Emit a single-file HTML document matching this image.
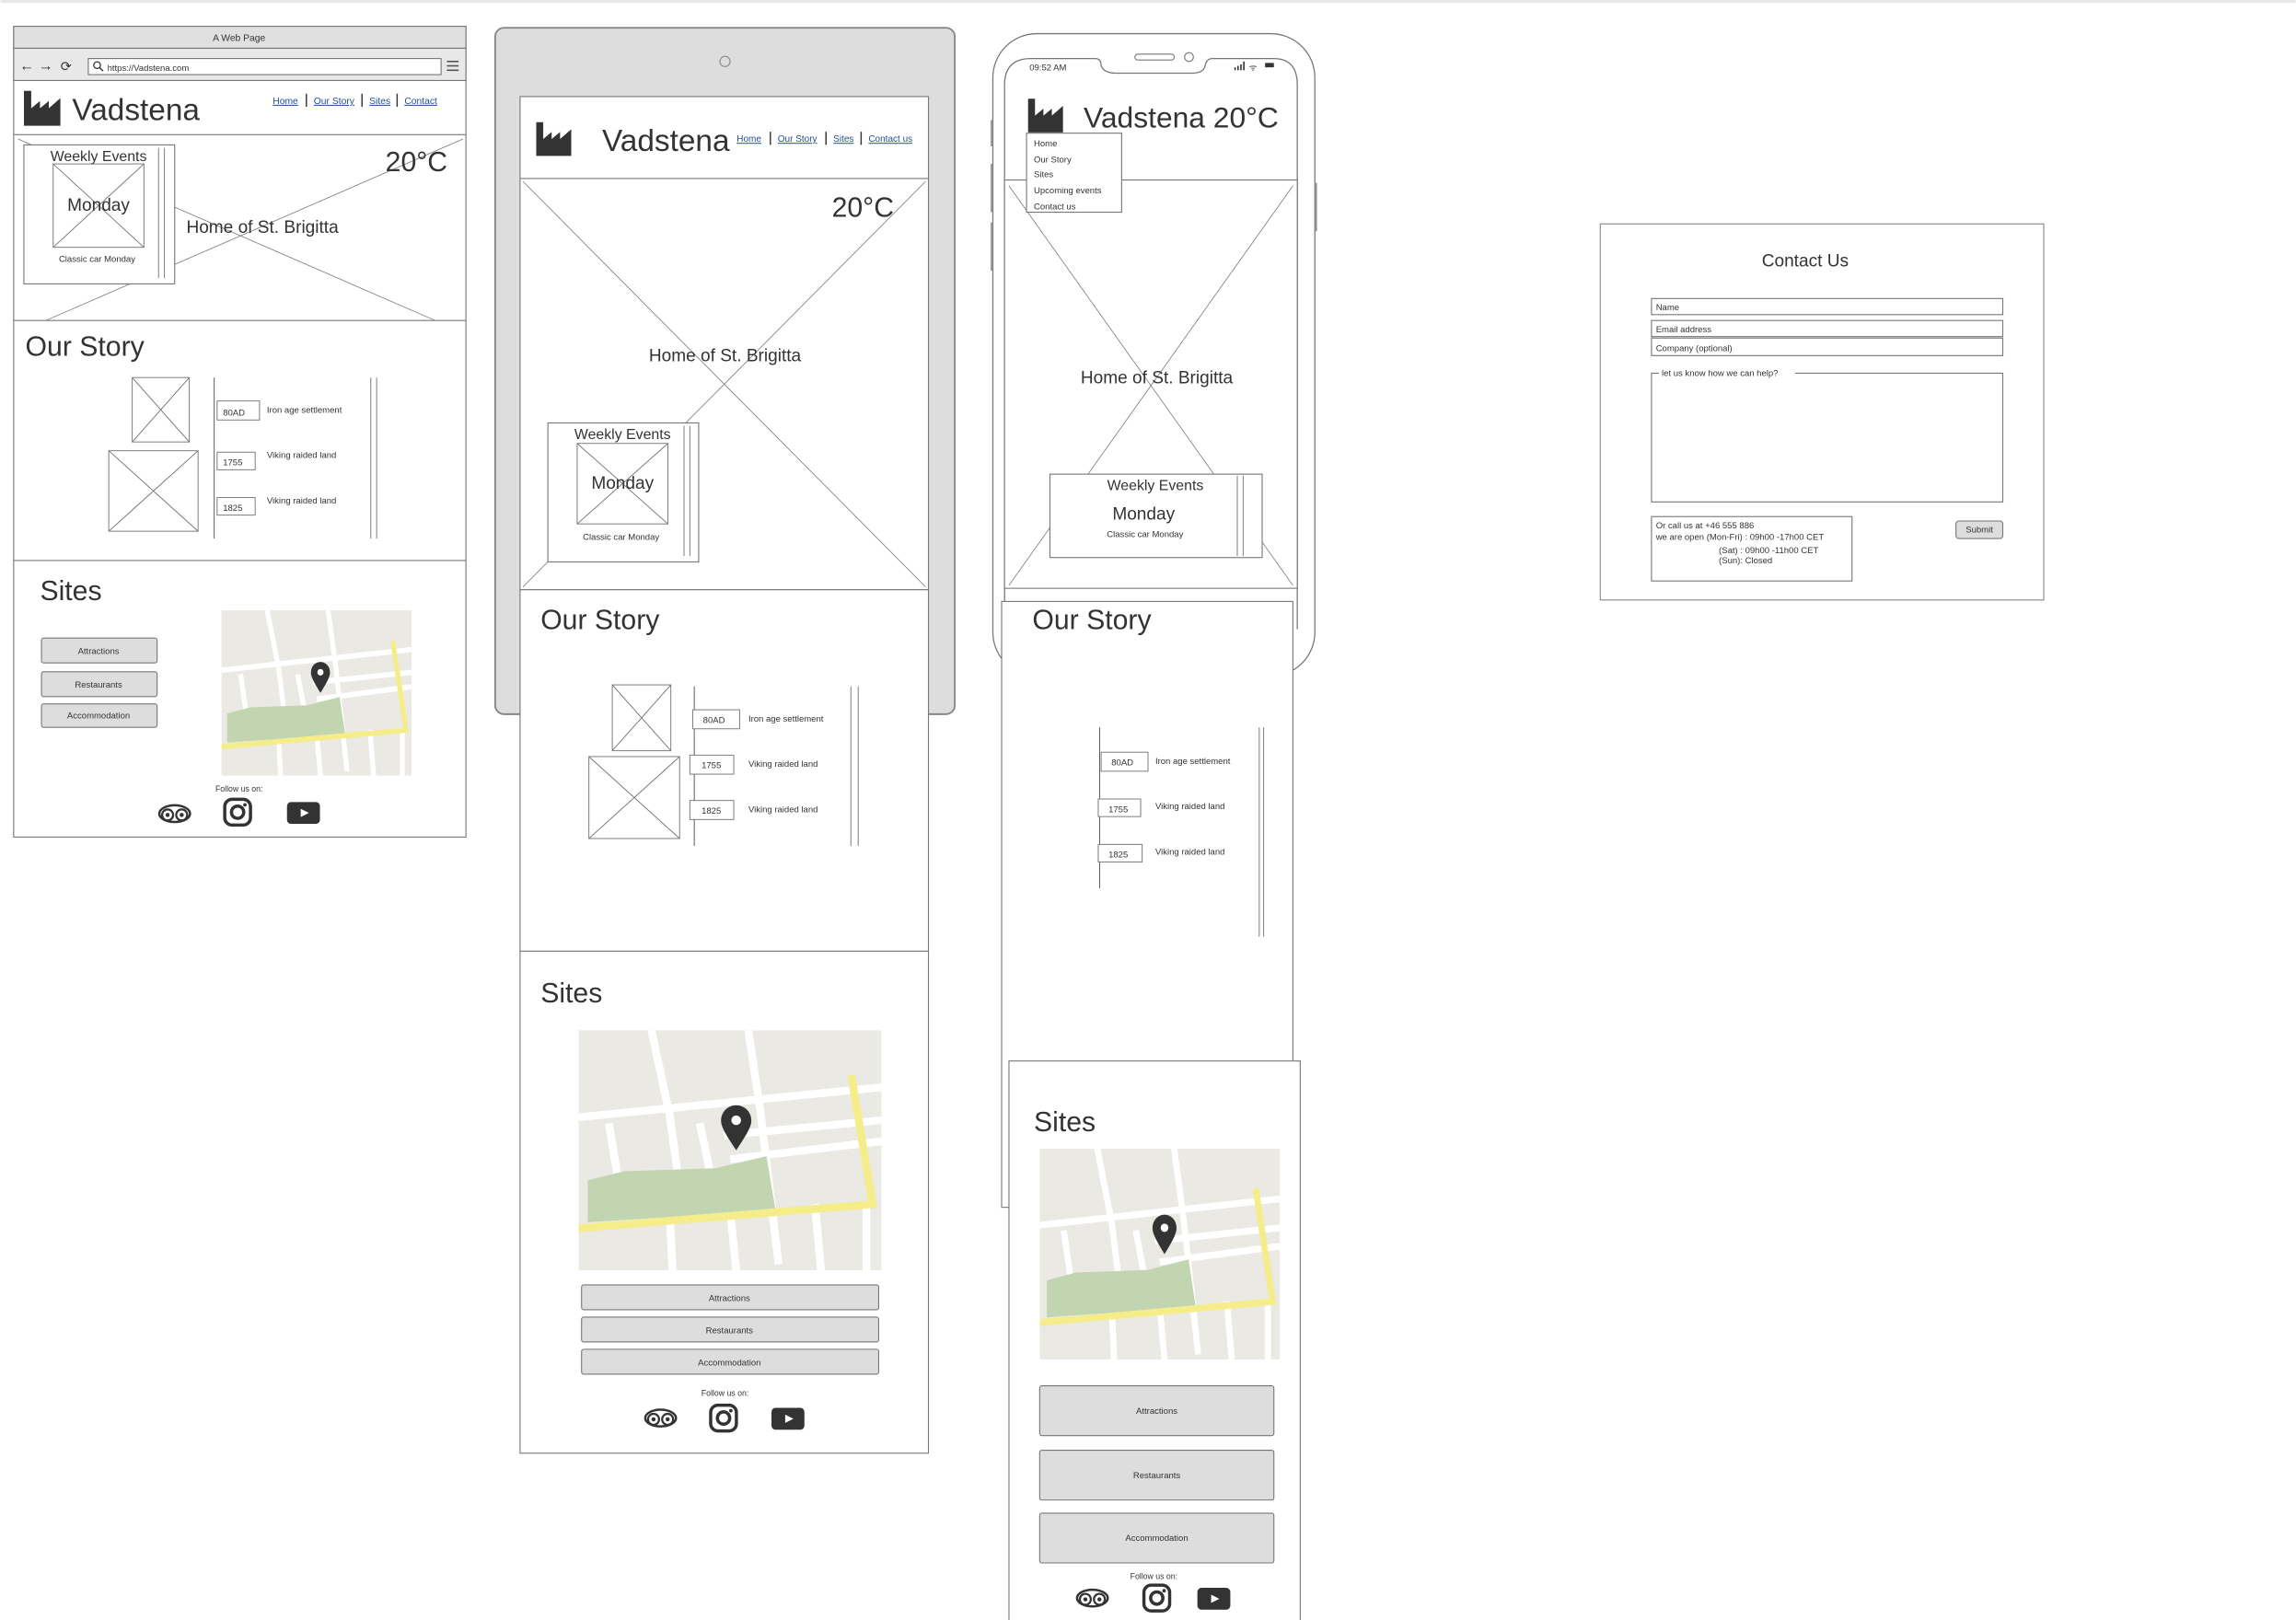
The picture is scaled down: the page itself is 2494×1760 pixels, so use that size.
<!DOCTYPE html>
<html><head><meta charset="utf-8"><style>
html,body{margin:0;padding:0;background:#fff;}
svg{display:block;}
text{font-family:"Liberation Sans",sans-serif;fill:#333;}
</style></head><body>
<svg width="2494" height="1760" viewBox="0 0 1568 1107" xmlns="http://www.w3.org/2000/svg">
<defs>
<symbol id="map" viewBox="0 0 100 80" preserveAspectRatio="none">
<rect width="100" height="80" fill="#ebe9e3"/>
<g stroke="#fff" stroke-width="2.6" fill="none">
<path d="M0 29 L100 19"/><path d="M48 35 L100 30"/><path d="M50 43 L100 37"/>
<path d="M24 0 L30 28 L33 50"/><path d="M56 0 L60 27 L66 78"/><path d="M10 31 L14 56"/>
<path d="M40 31 L45 55"/><path d="M30 60 L31 80"/><path d="M50 60 L52 80"/><path d="M78 58 L80 80"/><path d="M95 58 L95 80"/>
</g>
<path d="M3 50 L15 47 L45 46 L62 42 L65 60 L3 64 Z" fill="#c1d5b0"/>
<path d="M0 66 L97 58 L90 15" stroke="#f5ec8a" stroke-width="2.6" fill="none"/>
<path d="M52 40 C48 34 47 32 47 30 A5 5 0 0 1 57 30 C57 32 56 34 52 40 Z" fill="#333"/>
<circle cx="52" cy="30" r="1.6" fill="#fff"/>
</symbol>
<symbol id="trip" viewBox="0 0 26 16"><ellipse cx="13" cy="8" rx="12" ry="6.5" fill="none" stroke="#333" stroke-width="1.8"/><circle cx="7.5" cy="9" r="4.3" fill="#fff" stroke="#333" stroke-width="1.6"/><circle cx="18.5" cy="9" r="4.3" fill="#fff" stroke="#333" stroke-width="1.6"/><circle cx="7.5" cy="9" r="1.6" fill="#333"/><circle cx="18.5" cy="9" r="1.6" fill="#333"/></symbol>
<symbol id="insta" viewBox="0 0 20 20"><rect x="1.2" y="1.2" width="17.6" height="17.6" rx="5" fill="none" stroke="#333" stroke-width="2.2"/><circle cx="10" cy="10" r="4.2" fill="none" stroke="#333" stroke-width="2.2"/><circle cx="15" cy="5" r="1.2" fill="#333"/></symbol>
<symbol id="yt" viewBox="0 0 24 16"><rect width="24" height="16" rx="3" fill="#333"/><path d="M10 5 L16 8 L10 11 Z" fill="#fff"/></symbol>
<symbol id="fac" viewBox="0 0 25 24"><path d="M0 0 L5 0 L5 12 L11 7 L11 12 L17 7 L17 12 L25 5 L25 24 L0 24 Z" fill="#333"/></symbol>
</defs>
<rect x="0" y="0" width="1568" height="2" fill="#e8e8e8"/>

<!-- ===== DESKTOP ===== -->
<g stroke="#777" stroke-width="0.7" fill="none">
<rect x="9" y="18" width="309" height="554" fill="#fff"/>
<rect x="9" y="18" width="309" height="15" fill="#e0e0e0"/>
<rect x="9" y="33" width="309" height="22" fill="#e8e8e8"/>
<rect x="60" y="40" width="241" height="11" fill="#fff"/>
<line x1="9" y1="92" x2="318" y2="92"/><line x1="9" y1="219" x2="318" y2="219"/><line x1="9" y1="383" x2="318" y2="383"/>
<line x1="12" y1="95" x2="297" y2="219" stroke-width="0.5"/><line x1="316" y1="95" x2="31" y2="219" stroke-width="0.5"/>
</g>
<text x="163" y="28" font-size="6.5" text-anchor="middle">A Web Page</text>
<text x="13" y="48" font-size="10" fill="#555">←</text><text x="26" y="48" font-size="10" fill="#555">→</text><text x="41" y="48.5" font-size="9" fill="#555">⟳</text>
<circle cx="66" cy="44.5" r="2.3" fill="none" stroke="#333" stroke-width="0.8"/><line x1="67.6" y1="46" x2="70" y2="48.5" stroke="#333" stroke-width="0.9"/>
<text x="73" y="48.5" font-size="6">https://Vadstena.com</text>
<g stroke="#555" stroke-width="1"><line x1="305" y1="42" x2="313" y2="42"/><line x1="305" y1="45" x2="313" y2="45"/><line x1="305" y1="48" x2="313" y2="48"/></g>
<use href="#fac" x="16" y="62" width="25" height="24"/>
<text x="49" y="82" font-size="21">Vadstena</text>
<g font-size="6.5"><text x="186" y="71" style="fill:#1f4e9a" text-decoration="underline">Home</text><text x="214" y="71" style="fill:#1f4e9a" text-decoration="underline">Our Story</text><text x="252" y="71" style="fill:#1f4e9a" text-decoration="underline">Sites</text><text x="276" y="71" style="fill:#1f4e9a" text-decoration="underline">Contact</text></g>
<g stroke="#333" stroke-width="0.9"><line x1="209" y1="64" x2="209" y2="73"/><line x1="247" y1="64" x2="247" y2="73"/><line x1="271" y1="64" x2="271" y2="73"/></g>
<rect x="16" y="99" width="103" height="95" fill="#fff" stroke="#777" stroke-width="0.7"/>
<g stroke="#777" stroke-width="0.6"><line x1="108" y1="101" x2="108" y2="190"/><line x1="112" y1="101" x2="112" y2="190"/>
<rect x="36" y="112" width="62" height="57" fill="none"/><line x1="36" y1="112" x2="98" y2="169"/><line x1="98" y1="112" x2="36" y2="169"/></g>
<text x="67" y="110" font-size="10" text-anchor="middle">Weekly Events</text>
<text x="67" y="144" font-size="12" text-anchor="middle">Monday</text>
<text x="66" y="179" font-size="6" text-anchor="middle">Classic car Monday</text>
<text x="263" y="117" font-size="19">20°C</text>
<text x="127" y="159" font-size="12">Home of St. Brigitta</text>
<text x="17" y="243" font-size="19">Our Story</text>
<g stroke="#777" stroke-width="0.6" fill="none">
<rect x="90" y="258" width="39" height="44"/><line x1="90" y1="258" x2="129" y2="302"/><line x1="129" y1="258" x2="90" y2="302"/>
<rect x="74" y="308" width="61" height="55"/><line x1="74" y1="308" x2="135" y2="363"/><line x1="135" y1="308" x2="74" y2="363"/>
<line x1="146" y1="258" x2="146" y2="368" stroke="#555"/><line x1="253" y1="258" x2="253" y2="368"/><line x1="257" y1="258" x2="257" y2="368"/>
<rect x="148" y="274" width="29" height="13" fill="#fff"/><rect x="148" y="309" width="26" height="12" fill="#fff"/><rect x="148" y="340" width="26" height="12" fill="#fff"/>
</g>
<g font-size="6"><text x="152" y="284">80AD</text><text x="152" y="318">1755</text><text x="152" y="349">1825</text>
<text x="182" y="282">Iron age settlement</text><text x="182" y="313">Viking raided land</text><text x="182" y="344">Viking raided land</text></g>
<text x="27" y="410" font-size="19">Sites</text>
<g stroke="#777" stroke-width="0.7" fill="#ddd"><rect x="28" y="436" width="79" height="17" rx="1.5"/><rect x="28" y="459" width="79" height="17" rx="1.5"/><rect x="28" y="481" width="79" height="16" rx="1.5"/></g>
<g font-size="6" text-anchor="middle"><text x="67" y="447">Attractions</text><text x="67" y="470">Restaurants</text><text x="67" y="491">Accommodation</text></g>
<use href="#map" x="151" y="417" width="130" height="113"/>
<text x="163" y="541" font-size="5.5" text-anchor="middle">Follow us on:</text>
<use href="#trip" x="107" y="549" width="24" height="14"/><use href="#insta" x="152" y="545" width="20" height="20"/><use href="#yt" x="195" y="548" width="24" height="15"/>

<!-- ===== TABLET ===== -->
<rect x="338" y="19" width="314" height="469" rx="6" fill="#ddd" stroke="#888" stroke-width="1.2"/>
<circle cx="495" cy="42" r="3.5" fill="none" stroke="#888" stroke-width="0.7"/>
<g stroke="#777" stroke-width="0.7">
<rect x="355" y="66" width="279" height="337" fill="#fff"/>
<line x1="355" y1="122" x2="634" y2="122"/>
<line x1="357" y1="124" x2="632" y2="401" stroke-width="0.5"/><line x1="632" y1="124" x2="357" y2="401" stroke-width="0.5"/>
<rect x="355" y="403" width="279" height="247" fill="#fff"/>
<rect x="355" y="650" width="279" height="343" fill="#fff"/>
</g>
<use href="#fac" x="366" y="83" width="24" height="24"/>
<text x="411" y="103" font-size="21">Vadstena</text>
<g font-size="6.3"><text x="503" y="97" style="fill:#1f4e9a" text-decoration="underline">Home</text><text x="531" y="97" style="fill:#1f4e9a" text-decoration="underline">Our Story</text><text x="569" y="97" style="fill:#1f4e9a" text-decoration="underline">Sites</text><text x="593" y="97" style="fill:#1f4e9a" text-decoration="underline">Contact us</text></g>
<g stroke="#333" stroke-width="0.9"><line x1="526" y1="90" x2="526" y2="99"/><line x1="564" y1="90" x2="564" y2="99"/><line x1="588" y1="90" x2="588" y2="99"/></g>
<text x="568" y="148" font-size="19">20°C</text>
<text x="495" y="247" font-size="12" text-anchor="middle">Home of St. Brigitta</text>
<rect x="374" y="289" width="103" height="95" fill="#fff" stroke="#777" stroke-width="0.7"/>
<g stroke="#777" stroke-width="0.6" fill="none"><line x1="467" y1="291" x2="467" y2="380"/><line x1="471" y1="291" x2="471" y2="380"/>
<rect x="394" y="303" width="62" height="55"/><line x1="394" y1="303" x2="456" y2="358"/><line x1="456" y1="303" x2="394" y2="358"/></g>
<text x="425" y="300" font-size="10" text-anchor="middle">Weekly Events</text>
<text x="425" y="334" font-size="12" text-anchor="middle">Monday</text>
<text x="424" y="369" font-size="6" text-anchor="middle">Classic car Monday</text>
<text x="369" y="430" font-size="19">Our Story</text>
<g stroke="#777" stroke-width="0.6" fill="none">
<rect x="418" y="468" width="40" height="45"/><line x1="418" y1="468" x2="458" y2="513"/><line x1="458" y1="468" x2="418" y2="513"/>
<rect x="402" y="517" width="62" height="56"/><line x1="402" y1="517" x2="464" y2="573"/><line x1="464" y1="517" x2="402" y2="573"/>
<line x1="474" y1="469" x2="474" y2="578" stroke="#555"/><line x1="581" y1="469" x2="581" y2="578"/><line x1="586" y1="469" x2="586" y2="578"/>
<rect x="473" y="485" width="32" height="13" fill="#fff"/><rect x="471" y="516" width="30" height="13" fill="#fff"/><rect x="471" y="547" width="30" height="13" fill="#fff"/>
</g>
<g font-size="6"><text x="480" y="494">80AD</text><text x="479" y="525">1755</text><text x="479" y="556">1825</text>
<text x="511" y="493">Iron age settlement</text><text x="511" y="524">Viking raided land</text><text x="511" y="555">Viking raided land</text></g>
<text x="369" y="685" font-size="19">Sites</text>
<use href="#map" x="395" y="704" width="207" height="164"/>
<g stroke="#777" stroke-width="0.7" fill="#ddd"><rect x="397" y="878" width="203" height="17" rx="1.5"/><rect x="397" y="900" width="203" height="17" rx="1.5"/><rect x="397" y="922" width="203" height="17" rx="1.5"/></g>
<g font-size="6" text-anchor="middle"><text x="498" y="889">Attractions</text><text x="498" y="911">Restaurants</text><text x="498" y="933">Accommodation</text></g>
<text x="495" y="954" font-size="5.5" text-anchor="middle">Follow us on:</text>
<use href="#trip" x="439" y="962" width="24" height="14"/><use href="#insta" x="484" y="959" width="20" height="20"/><use href="#yt" x="526" y="962" width="24" height="15"/>

<!-- ===== PHONE ===== -->
<rect x="678" y="23" width="220" height="439" rx="30" fill="#fff" stroke="#777" stroke-width="0.8"/>
<g stroke="#777" stroke-width="0.8"><line x1="677" y1="82" x2="677" y2="100"/><line x1="677" y1="112" x2="677" y2="145"/><line x1="677" y1="152" x2="677" y2="185"/><line x1="899" y1="125" x2="899" y2="158"/></g>
<path d="M686 430 L686 58 Q686 40 704 40 L748 40 Q752 40 752 45 Q754 50 762 50 L814 50 Q822 50 823 45 Q824 40 828 40 L870 40 Q886 40 886 58 L886 430" fill="none" stroke="#777" stroke-width="0.8"/>
<rect x="775" y="37" width="27" height="4" rx="2" fill="none" stroke="#777" stroke-width="0.7"/>
<circle cx="812" cy="39" r="3" fill="none" stroke="#777" stroke-width="0.7"/>
<text x="703" y="48" font-size="6">09:52 AM</text>
<g fill="#333"><rect x="843" y="46" width="1" height="2"/><rect x="845" y="45" width="1" height="3"/><rect x="847" y="44" width="1" height="4"/><rect x="849" y="42" width="1" height="6"/><rect x="864" y="43" width="6" height="3"/></g>
<text x="853" y="48" font-size="6">ᯤ</text>
<g stroke="#777" stroke-width="0.7">
<rect x="686" y="123" width="200" height="279" fill="#fff"/>
<line x1="689" y1="127" x2="883" y2="400" stroke-width="0.5"/><line x1="883" y1="127" x2="689" y2="400" stroke-width="0.5"/>
</g>
<use href="#fac" x="702" y="67" width="24" height="24"/>
<text x="740" y="87" font-size="20">Vadstena  20°C</text>
<rect x="701" y="91" width="65" height="54" fill="#fff" stroke="#777" stroke-width="0.7"/>
<g font-size="6"><text x="706" y="100">Home</text><text x="706" y="111">Our Story</text><text x="706" y="121">Sites</text><text x="706" y="132">Upcoming events</text><text x="706" y="143">Contact us</text></g>
<text x="790" y="262" font-size="12" text-anchor="middle">Home of St. Brigitta</text>
<rect x="717" y="324" width="145" height="57" fill="#fff" stroke="#777" stroke-width="0.7"/>
<g stroke="#777" stroke-width="0.6"><line x1="845" y1="325" x2="845" y2="380"/><line x1="849" y1="325" x2="849" y2="380"/></g>
<text x="789" y="335" font-size="10" text-anchor="middle">Weekly Events</text>
<text x="781" y="355" font-size="12" text-anchor="middle">Monday</text>
<text x="782" y="367" font-size="6" text-anchor="middle">Classic car Monday</text>
<rect x="684" y="411" width="199" height="414" fill="#fff" stroke="#777" stroke-width="0.7"/>
<text x="705" y="430" font-size="19">Our Story</text>
<g stroke="#777" stroke-width="0.6" fill="none">
<line x1="751" y1="497" x2="751" y2="607" stroke="#555"/><line x1="860" y1="497" x2="860" y2="640"/><line x1="863" y1="497" x2="863" y2="640"/>
<rect x="752" y="514" width="32" height="13" fill="#fff"/><rect x="750" y="546" width="29" height="12" fill="#fff"/><rect x="750" y="577" width="30" height="12" fill="#fff"/>
</g>
<g font-size="6"><text x="759" y="523">80AD</text><text x="757" y="555">1755</text><text x="757" y="586">1825</text>
<text x="789" y="522">Iron age settlement</text><text x="789" y="553">Viking raided land</text><text x="789" y="584">Viking raided land</text></g>
<rect x="689" y="725" width="199" height="390" fill="#fff" stroke="#777" stroke-width="0.7"/>
<text x="706" y="773" font-size="19">Sites</text>
<use href="#map" x="710" y="785" width="164" height="144"/>
<g stroke="#777" stroke-width="0.7" fill="#ddd"><rect x="710" y="947" width="160" height="34" rx="1.5"/><rect x="710" y="991" width="160" height="34" rx="1.5"/><rect x="710" y="1034" width="160" height="34" rx="1.5"/></g>
<g font-size="6" text-anchor="middle"><text x="790" y="966">Attractions</text><text x="790" y="1010">Restaurants</text><text x="790" y="1053">Accommodation</text></g>
<text x="788" y="1079" font-size="5.5" text-anchor="middle">Follow us on:</text>
<use href="#trip" x="734" y="1085" width="24" height="14"/><use href="#insta" x="780" y="1082" width="20" height="20"/><use href="#yt" x="817" y="1085" width="24" height="15"/>

<!-- ===== CONTACT ===== -->
<rect x="1093" y="153" width="303" height="257" fill="#fff" stroke="#888" stroke-width="0.7"/>
<text x="1233" y="182" font-size="12" text-anchor="middle">Contact Us</text>
<g stroke="#777" stroke-width="0.7" fill="#fff"><rect x="1128" y="204" width="240" height="11"/><rect x="1128" y="219" width="240" height="11"/><rect x="1128" y="231" width="240" height="12"/>
<path d="M1133 255 L1128 255 L1128 343 L1368 343 L1368 255 L1226 255" fill="none"/>
<rect x="1128" y="353" width="137" height="44"/><rect x="1336" y="356" width="32" height="12" rx="2" fill="#ddd"/></g>
<g font-size="6"><text x="1131" y="212">Name</text><text x="1131" y="227">Email address</text><text x="1131" y="240">Company (optional)</text>
<text x="1135" y="257">let us know how we can help?</text>
<text x="1131" y="361">Or call us at +46 555 886</text><text x="1131" y="369">we are open (Mon-Fri) : 09h00 -17h00 CET</text>
<text x="1174" y="378">(Sat) : 09h00 -11h00 CET</text><text x="1174" y="385">(Sun): Closed</text>
<text x="1352" y="364" text-anchor="middle">Submit</text></g>
</svg>
</body></html>
